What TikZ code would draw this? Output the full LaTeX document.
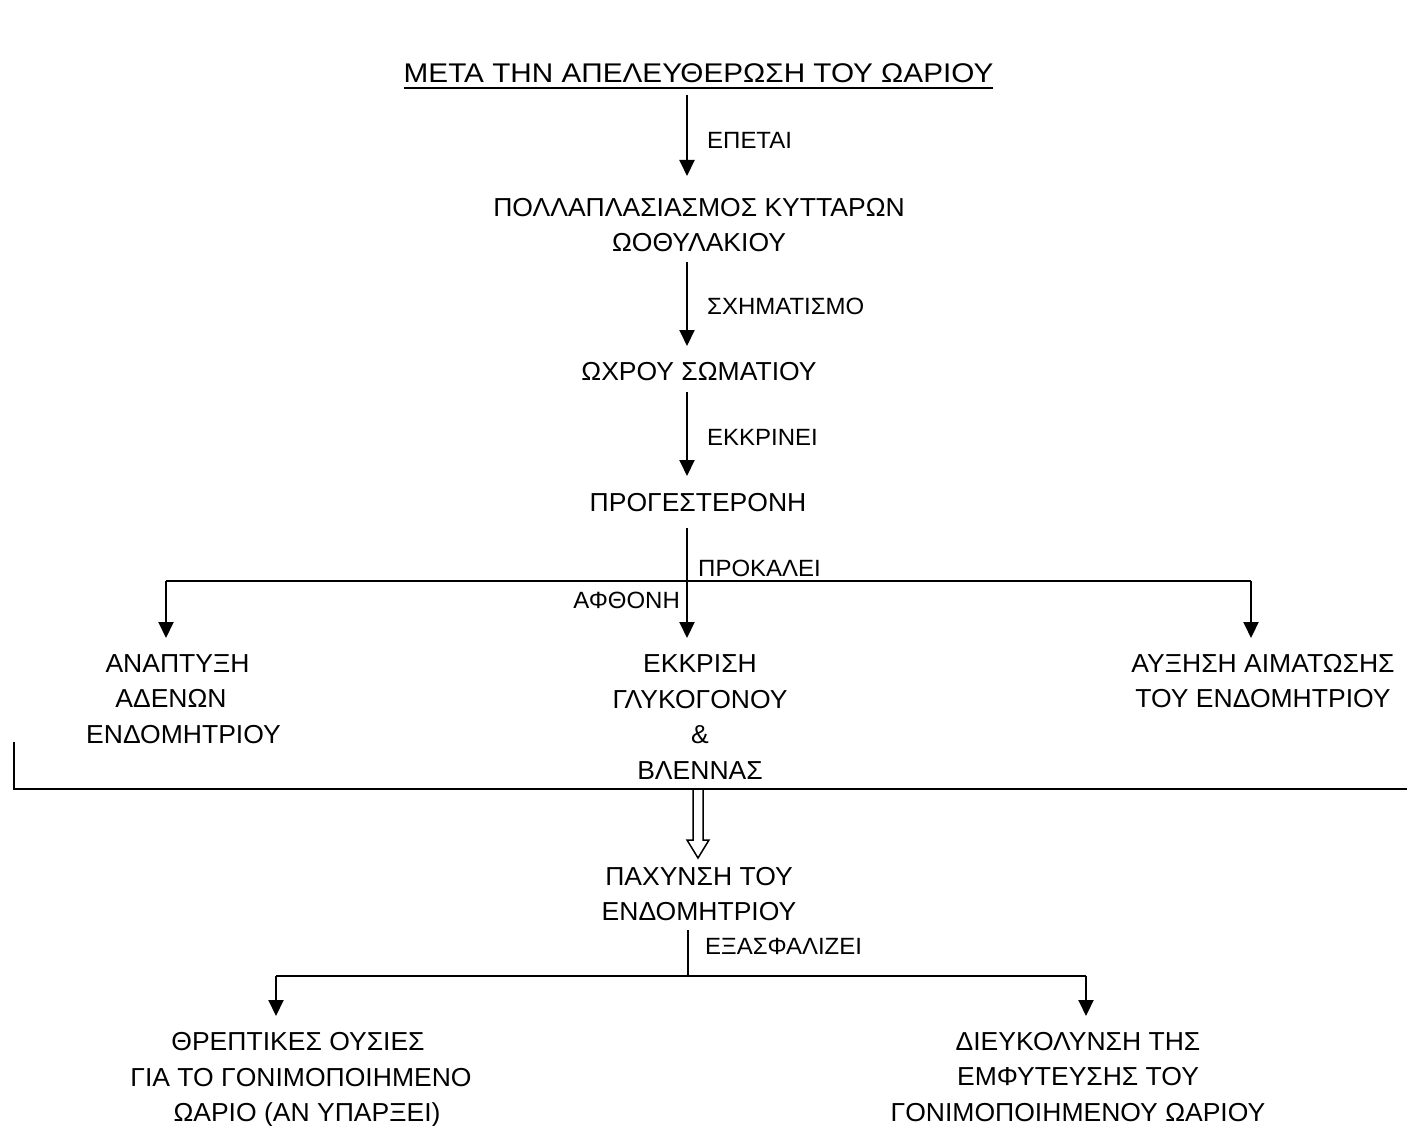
\documentclass[tikz,border=0pt]{standalone}
\usepackage{fontspec}
\setmainfont{Liberation Sans}
\newfontfamily\bodyfont[FakeStretch=1.02]{Liberation Sans}
\newfontfamily\titlefont[FakeStretch=1.1]{Liberation Sans}
\usetikzlibrary{arrows.meta}
\begin{document}
\begin{tikzpicture}[x=1pt,y=-1pt,
  txt/.style={font=\bodyfont\fontsize{26}{35.5}\selectfont, align=center, inner sep=0pt},
  ttl/.style={font=\titlefont\fontsize{27}{32}\selectfont, inner sep=0pt},
  lbl/.style={font=\bodyfont\fontsize{23.5}{28}\selectfont, inner sep=0pt},
  ln/.style={line width=2pt},
  arr/.style={line width=2pt, -{Triangle[width=15pt,length=16pt]}}]
\useasboundingbox (0,0) rectangle (1407,1126);
% texts
\node[ttl] (title) at (698.5,73) {ΜΕΤΑ ΤΗΝ ΑΠΕΛΕΥΘΕΡΩΣΗ ΤΟΥ ΩΑΡΙΟΥ};
\draw[line width=2pt] ([yshift=-5pt]title.south west) -- ([yshift=-5pt]title.south east);
\node[txt] (poll) at (699,225) {ΠΟΛΛΑΠΛΑΣΙΑΣΜΟΣ ΚΥΤΤΑΡΩΝ\\ΩΟΘΥΛΑΚΙΟΥ};
\node[txt] (ochro) at (699,372) {ΩΧΡΟΥ ΣΩΜΑΤΙΟΥ};
\node[txt] (prog) at (698,503) {ΠΡΟΓΕΣΤΕΡΟΝΗ};
\node[txt] (anap) at (180,699) {ΑΝΑΠΤΥΞΗ\rule{5pt}{0pt}\\ΑΔΕΝΩΝ\rule{18pt}{0pt}\\\rule{7pt}{0pt}ΕΝΔΟΜΗΤΡΙΟΥ};
\node[txt] (ekkr) at (700,717) {ΕΚΚΡΙΣΗ\\ΓΛΥΚΟΓΟΝΟΥ\\\&\\ΒΛΕΝΝΑΣ};
\node[txt] (afxi) at (1263,681) {ΑΥΞΗΣΗ ΑΙΜΑΤΩΣΗΣ\\ΤΟΥ ΕΝΔΟΜΗΤΡΙΟΥ};
\node[txt] (pach) at (699,894) {ΠΑΧΥΝΣΗ ΤΟΥ\\ΕΝΔΟΜΗΤΡΙΟΥ};
\node[txt] (threp) at (301,1080) {ΘΡΕΠΤΙΚΕΣ ΟΥΣΙΕΣ\rule{6pt}{0pt}\\ΓΙΑ ΤΟ ΓΟΝΙΜΟΠΟΙΗΜΕΝΟ\\\rule{12pt}{0pt}ΩΑΡΙΟ (ΑΝ ΥΠΑΡΞΕΙ)};
\node[txt] (dieu) at (1078,1077) {ΔΙΕΥΚΟΛΥΝΣΗ ΤΗΣ\\ΕΜΦΥΤΕΥΣΗΣ ΤΟΥ\\ΓΟΝΙΜΟΠΟΙΗΜΕΝΟΥ ΩΑΡΙΟΥ};
% labels
\node[lbl, anchor=west] (l1) at (707,140) {ΕΠΕΤΑΙ};
\node[lbl, anchor=west] (l2) at (707,306) {ΣΧΗΜΑΤΙΣΜΟ};
\node[lbl, anchor=west] (l3) at (707,437) {ΕΚΚΡΙΝΕΙ};
\node[lbl, anchor=west] (l4) at (698,568) {ΠΡΟΚΑΛΕΙ};
\node[lbl, anchor=east] (l5) at (680,600) {ΑΦΘΟΝΗ};
\node[lbl, anchor=west] (l6) at (705,946) {ΕΞΑΣΦΑΛΙΖΕΙ};
% connector coordinates
\coordinate (a1s) at (687,95);  \coordinate (a1e) at (687,176);
\coordinate (a2s) at (687,262); \coordinate (a2e) at (687,346);
\coordinate (a3s) at (687,392); \coordinate (a3e) at (687,476);
\coordinate (a4s) at (687,528); \coordinate (a4e) at (687,638);
\coordinate (hl) at (166,581); \coordinate (hr) at (1251,581);
\coordinate (el) at (166,638); \coordinate (er) at (1251,638);
\coordinate (b1) at (14,742); \coordinate (b2) at (14,789); \coordinate (b3) at (1407,789);
\coordinate (v1) at (688,930); \coordinate (v2) at (688,976);
\coordinate (gl) at (276,976); \coordinate (gr) at (1086,976);
\coordinate (fl) at (276,1016); \coordinate (fr) at (1086,1016);
% arrows
\draw[arr] (a1s) -- (a1e);
\draw[arr] (a2s) -- (a2e);
\draw[arr] (a3s) -- (a3e);
\draw[arr] (a4s) -- (a4e);
\draw[ln] (hl) -- (hr);
\draw[arr] (hl) -- (el);
\draw[arr] (hr) -- (er);
\draw[ln] (b1) -- (b2) -- (b3);
% hollow double arrow
\draw[line width=1.5pt, line join=miter] (693,789) -- (693,840) -- (687,840) -- (698,858) -- (709,840) -- (703,840) -- (703,789);
\draw[ln] (v1) -- (v2);
\draw[ln] (gl) -- (gr);
\draw[arr] (gl) -- (fl);
\draw[arr] (gr) -- (fr);
\end{tikzpicture}
\end{document}
